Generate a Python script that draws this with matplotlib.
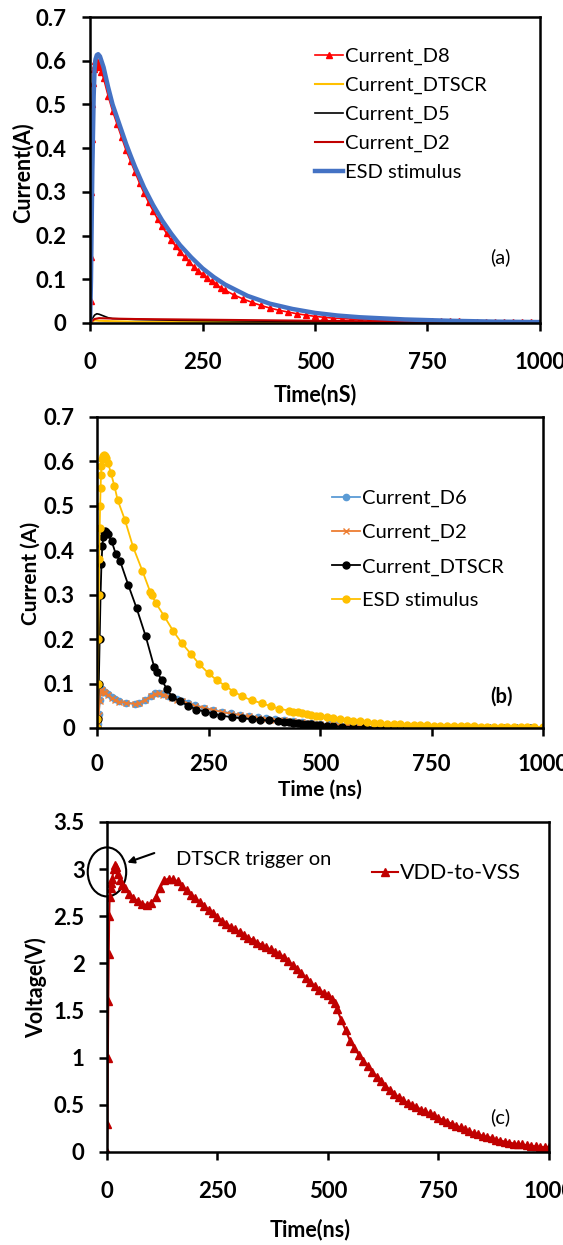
import matplotlib
matplotlib.use('Agg')
import matplotlib.pyplot as plt
from matplotlib.patches import Ellipse

plt.rcParams['font.family'] = ['Lato', 'DejaVu Sans']

# ---------------- panel (a) ----------------
a_esd_t = [0, 2, 5, 8, 10, 12, 15, 18, 22, 30, 40, 50, 60, 70, 80, 90, 100, 120, 140, 160, 180,
           200, 225, 250, 275, 300, 350, 400, 450, 500, 550, 600, 700, 800, 900, 1000]
a_esd_v = [0, 0.10, 0.35, 0.52, 0.58, 0.603, 0.613, 0.615, 0.61, 0.585, 0.54, 0.50, 0.47, 0.44,
           0.41, 0.383, 0.357, 0.31, 0.27, 0.235, 0.205, 0.178, 0.15, 0.125, 0.105, 0.088,
           0.062, 0.044, 0.032, 0.023, 0.017, 0.013, 0.008, 0.005, 0.003, 0.002]

a_d8_t = [0, 1, 2, 3, 4, 5, 6, 8, 10, 12, 15, 18, 20, 25, 30, 40, 50, 60, 70, 80, 90, 100,
          110, 120, 130, 140, 150, 160, 170, 180, 190, 200, 210, 220, 230, 240, 250, 260, 270,
          280, 290, 300, 320, 340, 360, 380, 400, 420, 440, 460, 480, 500, 520, 540, 560, 580,
          600, 620, 640, 660, 680, 700, 720, 740, 760, 780, 800, 820, 840, 860, 880, 900, 920,
          940, 960, 980, 1000]
a_d8_v = [0, 0.05, 0.15, 0.30, 0.42, 0.50, 0.55, 0.58, 0.59, 0.60, 0.60, 0.592, 0.585, 0.575,
          0.56, 0.52, 0.485, 0.455, 0.425, 0.395, 0.37, 0.345, 0.32, 0.297, 0.276, 0.257,
          0.238, 0.221, 0.205, 0.19, 0.176, 0.163, 0.151, 0.14, 0.129, 0.12, 0.111, 0.102,
          0.095, 0.088, 0.081, 0.075, 0.064, 0.055, 0.047, 0.040, 0.034, 0.029, 0.025, 0.021,
          0.018, 0.015, 0.013, 0.011, 0.010, 0.009, 0.008, 0.007, 0.006, 0.006, 0.006, 0.005,
          0.005, 0.005, 0.004, 0.004, 0.004, 0.004, 0.003, 0.003, 0.003, 0.003, 0.003, 0.002,
          0.002, 0.002, 0.002]

a_dtscr_t = [0, 5, 10, 20, 50, 100, 300, 500, 1000]
a_dtscr_v = [0, 0.003, 0.006, 0.005, 0.004, 0.003, 0.002, 0.001, 0.0]

a_d5_t = [0, 5, 10, 15, 20, 30, 40, 50, 75, 100, 200, 300, 400, 500, 600, 800, 1000]
a_d5_v = [0, 0.010, 0.018, 0.021, 0.020, 0.016, 0.012, 0.010, 0.009, 0.008, 0.006, 0.005,
          0.004, 0.003, 0.002, 0.001, 0.001]

a_d2_t = [0, 5, 10, 20, 50, 100, 200, 300, 400, 500, 600, 700, 800, 1000]
a_d2_v = [0, 0.005, 0.009, 0.011, 0.010, 0.009, 0.008, 0.007, 0.006, 0.005, 0.004, 0.003,
          0.002, 0.001]

# ---------------- panel (b) ----------------
b_esd_t = [0, 1, 2, 3, 4, 5, 6, 7, 8, 9, 10, 12, 14, 16, 18, 20, 25, 31, 39, 46, 63, 81, 102,
           119, 123, 132, 151, 171, 190, 211, 229, 250, 268, 287, 306, 326, 347, 369, 389, 409,
           431, 440, 450, 460, 470, 480, 490, 500, 515, 530, 545, 560, 575, 590, 605, 620, 635,
           650, 665, 680, 695, 710, 725, 740, 755, 770, 785, 800, 815, 830, 845, 860, 875, 890,
           905, 920, 935, 950, 965, 980, 1000]
b_esd_v = [0, 0.02, 0.10, 0.20, 0.30, 0.38, 0.45, 0.50, 0.54, 0.57, 0.59, 0.605, 0.612, 0.615,
           0.612, 0.607, 0.596, 0.574, 0.545, 0.514, 0.467, 0.407, 0.353, 0.307, 0.299, 0.281,
           0.251, 0.218, 0.191, 0.166, 0.144, 0.123, 0.108, 0.095, 0.082, 0.071, 0.062, 0.056,
           0.049, 0.043, 0.039, 0.037, 0.035, 0.033, 0.031, 0.029, 0.027, 0.026, 0.024, 0.022,
           0.020, 0.018, 0.016, 0.015, 0.013, 0.012, 0.011, 0.010, 0.009, 0.008, 0.0075, 0.007,
           0.0065, 0.006, 0.0055, 0.005, 0.005, 0.0045, 0.004, 0.004, 0.0035, 0.003, 0.003,
           0.003, 0.0025, 0.0025, 0.002, 0.002, 0.002, 0.002, 0.002]

b_dtscr_t = [0, 2, 4, 6, 8, 10, 12, 14, 16, 18, 20, 24, 33, 42, 52, 70, 89, 109, 128, 134, 145,
             157, 169, 186, 205, 223, 242, 261, 279, 302, 324, 347, 365, 385, 405, 420, 430, 440,
             450, 460, 470, 480, 490, 500, 515, 530, 550, 575, 600, 650, 700, 750, 800, 850,
             880, 910, 940, 970, 1000]
b_dtscr_v = [0, 0.02, 0.10, 0.20, 0.30, 0.37, 0.41, 0.43, 0.44, 0.444, 0.442, 0.437, 0.42,
             0.392, 0.375, 0.322, 0.269, 0.207, 0.138, 0.127, 0.108, 0.087, 0.069, 0.060, 0.050,
             0.041, 0.037, 0.032, 0.028, 0.024, 0.022, 0.020, 0.018, 0.017, 0.015, 0.014, 0.013,
             0.012, 0.011, 0.010, 0.009, 0.008, 0.007, 0.006, 0.005, 0.004, 0.003, 0.0025,
             0.002, 0.0015, 0.001, 0.001, 0.001, 0.001, 0.001, 0.001, 0.001, 0.001, 0.001]

b_d2_t = [0, 2, 4, 6, 8, 10, 12, 15, 18, 25, 33, 40, 50, 66, 85, 95, 108, 120, 130, 140, 149,
          160, 169, 180, 190, 205, 220, 240, 260, 280, 300, 320, 340, 360, 380, 400, 420, 440,
          460, 480, 500, 520, 540, 560, 580, 600]
b_d2_v = [0, 0.01, 0.03, 0.06, 0.08, 0.086, 0.085, 0.080, 0.078, 0.075, 0.068, 0.063, 0.059,
          0.056, 0.054, 0.056, 0.063, 0.071, 0.077, 0.078, 0.075, 0.071, 0.068, 0.064, 0.060,
          0.055, 0.050, 0.045, 0.040, 0.036, 0.032, 0.029, 0.026, 0.023, 0.021, 0.019, 0.017,
          0.015, 0.013, 0.011, 0.009, 0.008, 0.007, 0.006, 0.005, 0.004]
b_d6_v = [0, 0.01, 0.032, 0.062, 0.082, 0.088, 0.087, 0.082, 0.080, 0.077, 0.070, 0.065, 0.060,
          0.057, 0.055, 0.057, 0.064, 0.072, 0.078, 0.079, 0.077, 0.073, 0.069, 0.065, 0.061,
          0.056, 0.051, 0.046, 0.041, 0.037, 0.033, 0.030, 0.027, 0.024, 0.022, 0.020, 0.018,
          0.016, 0.014, 0.012, 0.010, 0.009, 0.008, 0.007, 0.006, 0.005]

# ---------------- panel (c) ----------------
c_t = [0, 1, 2, 3, 4, 5, 6, 8, 10, 12, 15, 18, 20, 25, 30, 35, 40, 50, 60, 70, 80, 90, 100,
       110, 120, 130, 140, 150, 160, 170, 180, 190, 200, 210, 220, 230, 240, 250, 260, 270, 280,
       290, 300, 310, 320, 330, 340, 350, 360, 370, 380, 390, 400, 410, 420, 430, 440, 450, 460,
       470, 480, 490, 500, 510, 515, 520, 530, 540, 550, 560, 570, 580, 590, 600, 610, 620, 630,
       640, 650, 660, 670, 680, 690, 700, 710, 720, 730, 740, 750, 760, 770, 780, 790, 800, 810,
       820, 830, 840, 850, 860, 870, 880, 890, 900, 910, 920, 930, 940, 950, 960, 970, 980, 990,
       1000]
c_v = [0, 0.3, 1.0, 1.6, 2.1, 2.5, 2.7, 2.8, 2.85, 2.9, 3.0, 3.04, 3.02, 2.95, 2.88, 2.83, 2.80,
       2.74, 2.69, 2.66, 2.63, 2.62, 2.64, 2.70, 2.80, 2.88, 2.90, 2.89, 2.87, 2.82, 2.78, 2.73,
       2.69, 2.65, 2.61, 2.57, 2.53, 2.49, 2.45, 2.42, 2.39, 2.36, 2.33, 2.30, 2.27, 2.25, 2.22,
       2.20, 2.17, 2.15, 2.12, 2.10, 2.07, 2.03, 1.98, 1.94, 1.90, 1.84, 1.80, 1.76, 1.72, 1.69,
       1.66, 1.62, 1.58, 1.52, 1.40, 1.29, 1.18, 1.10, 1.03, 0.97, 0.91, 0.85, 0.80, 0.75, 0.70,
       0.66, 0.62, 0.58, 0.55, 0.52, 0.50, 0.48, 0.45, 0.43, 0.41, 0.39, 0.36, 0.34, 0.32, 0.30,
       0.28, 0.26, 0.24, 0.22, 0.20, 0.19, 0.17, 0.16, 0.15, 0.13, 0.12, 0.11, 0.10, 0.09, 0.085,
       0.08, 0.07, 0.065, 0.06, 0.055, 0.05, 0.05]

x_ticks = [0, 250, 500, 750, 1000]


def style_axes(ax, ymax, ystep, xpad, ypad):
    ax.set_xlim(0, 1000)
    ax.set_ylim(0, ymax)
    ax.set_xticks(x_ticks)
    yt = [round(i * ystep, 2) for i in range(int(round(ymax / ystep)) + 1)]
    ax.set_yticks(yt)
    ax.set_yticklabels(['%g' % v for v in yt])
    for s in ax.spines.values():
        s.set_linewidth(1.8)
    ax.tick_params(direction='out', length=6, width=1.8, labelsize=16)
    ax.tick_params(axis='x', pad=xpad)
    ax.tick_params(axis='y', pad=ypad)
    for lab in ax.get_xticklabels() + ax.get_yticklabels():
        lab.set_fontweight('bold')


fig = plt.figure(figsize=(5.63, 12.45), dpi=100)

# (a)
ax1 = fig.add_axes([0.160, 0.7406, 0.799, 0.2457])
ax1.plot(a_d8_t, a_d8_v, color='#FF0000', marker='^', markersize=4.5, lw=1.2, label='Current_D8')
ax1.plot(a_dtscr_t, a_dtscr_v, color='#FFC000', lw=1.5, label='Current_DTSCR')
ax1.plot(a_d5_t, a_d5_v, color='black', lw=1.2, label='Current_D5')
ax1.plot(a_d2_t, a_d2_v, color='#C00000', lw=1.5, label='Current_D2')
ax1.plot(a_esd_t, a_esd_v, color='#4472C4', lw=3.2, label='ESD stimulus')
style_axes(ax1, 0.7, 0.1, 15, 11)
ax1.set_xlabel('Time(nS)', fontsize=15.5, fontweight='bold', va='center')
ax1.xaxis.set_label_coords(0.5, -0.235)
ax1.set_ylabel('Current(A)', fontsize=15.5, fontweight='bold', va='center')
ax1.yaxis.set_label_coords(-0.151, 0.49)
ax1.legend(loc='upper left', bbox_to_anchor=(0.50, 0.90), frameon=False, fontsize=14.5,
           handlelength=1.4, handletextpad=0.1, labelspacing=0.58, borderpad=0, borderaxespad=0)
ax1.text(0.913, 0.216, '(a)', transform=ax1.transAxes, fontsize=14.5, ha='center', va='center')

# (b)
ax2 = fig.add_axes([0.1723, 0.4153, 0.7922, 0.2498])
ax2.plot(b_d2_t, b_d6_v, color='#5B9BD5', marker='o', markersize=4.5, lw=1.3, label='Current_D6')
ax2.plot(b_d2_t, b_d2_v, color='#ED7D31', marker='x', markersize=4.5, lw=1.3, label='Current_D2')
ax2.plot(b_dtscr_t, b_dtscr_v, color='black', marker='o', markersize=5, lw=1.3,
         label='Current_DTSCR')
ax2.plot(b_esd_t, b_esd_v, color='#FFC000', marker='o', markersize=5, lw=1.3,
         label='ESD stimulus')
style_axes(ax2, 0.7, 0.1, 13, 10)
ax2.set_xlabel('Time (ns)', fontsize=15, fontweight='bold', va='center')
ax2.xaxis.set_label_coords(0.5, -0.2)
ax2.set_ylabel('Current (A)', fontsize=15, fontweight='bold', va='center')
ax2.yaxis.set_label_coords(-0.148, 0.498)
ax2.legend(loc='upper left', bbox_to_anchor=(0.527, 0.765), frameon=False, fontsize=14.5,
           handlelength=1.4, handletextpad=0.1, labelspacing=0.83, borderpad=0, borderaxespad=0)
ax2.text(0.906, 0.10, '(b)', transform=ax2.transAxes, fontsize=14.5, fontweight='bold',
         ha='center', va='center')

# (c)
ax3 = fig.add_axes([0.190, 0.0747, 0.7851, 0.2651])
ax3.plot(c_t, c_v, color='#C00000', marker='^', markersize=5.5, lw=1.5, label='VDD-to-VSS')
style_axes(ax3, 3.5, 0.5, 15, 10)
ax3.set_xlabel('Time(ns)', fontsize=15.5, fontweight='bold', va='center')
ax3.xaxis.set_label_coords(0.46, -0.236)
ax3.set_ylabel('Voltage(V)', fontsize=15.5, fontweight='bold', va='center')
ax3.yaxis.set_label_coords(-0.16, 0.497)
ax3.legend(loc='upper left', bbox_to_anchor=(0.60, 0.875), frameon=False, fontsize=15.5,
           handlelength=1.2, handletextpad=0.1, borderpad=0, borderaxespad=0)
ax3.text(0.889, 0.106, '(c)', transform=ax3.transAxes, fontsize=14.5, ha='center', va='center')
ax3.add_patch(Ellipse((0, 2.97), 87, 0.52, fill=False, color='black', lw=1.5, clip_on=False))
ax3.annotate('', xy=(40, 3.06), xytext=(113, 3.18),
             arrowprops=dict(arrowstyle='-|>', color='black', lw=1.5))
ax3.text(156, 3.1, 'DTSCR trigger on', fontsize=14.5, va='center', ha='left')

fig.savefig('out.png', dpi=100)
